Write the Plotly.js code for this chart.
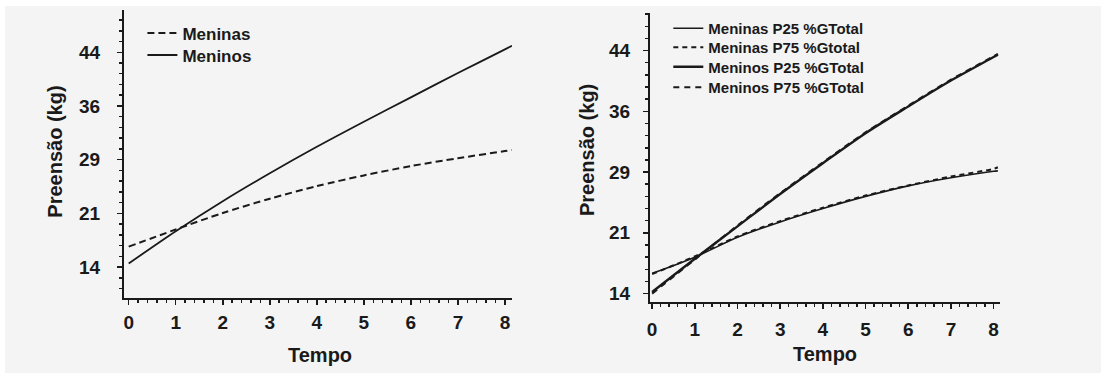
<!DOCTYPE html>
<html>
<head>
<meta charset="utf-8">
<script src="https://cdn.plot.ly/plotly-3.0.1.min.js"></script>
<style>
  html, body { margin: 0; padding: 0; background: #ffffff; width: 1101px; height: 374px; overflow: hidden; }
  #chart { position: absolute; left: 5px; top: 6px; width: 1096px; height: 367px; }
</style>
</head>
<body>
<div id="chart"></div>
<script>
// ---- data ----
const tempoLeft  = [0, 1, 2, 3, 4, 5, 6, 7, 8, 8.15];
const meninasLeft = [16.85, 19.25, 21.55, 23.55, 25.3, 26.8, 28.1, 29.2, 30.2, 30.35];
const meninosLeft = [14.5, 19.0, 23.2, 27.1, 30.8, 34.3, 37.7, 41.1, 44.4, 44.9];

const tempoRight = [0, 1, 2, 3, 4, 5, 6, 7, 8, 8.1];
const meninasP25 = [16.5, 18.5, 20.95, 22.85, 24.5, 26.0, 27.3, 28.3, 29.1, 29.15];
const meninasP75 = [16.4, 18.6, 21.05, 22.95, 24.6, 26.1, 27.35, 28.45, 29.4, 29.6];
const meninosP25 = [14.2, 18.3, 22.3, 26.3, 30.1, 33.8, 37.1, 40.3, 43.2, 43.5];
const meninosP75 = [14.0, 18.2, 22.4, 26.4, 30.2, 33.9, 37.2, 40.4, 43.3, 43.6];

const xTicks = [0, 1, 2, 3, 4, 5, 6, 7, 8];
const yTickVals = [14, 21.5, 29, 36.5, 44];
const yTickText = ['14', '21', '29', '36', '44'];

const leftNames = ['Meninas', 'Meninos'];
const rightNames = ['Meninas P25 %GTotal', 'Meninas P75 %Gtotal', 'Meninos P25 %GTotal', 'Meninos P75 %GTotal'];
const yTitle = 'Preensão (kg)';
const xTitle = 'Tempo';

// ---- styling ----
const INK = '#1a1a1a';
const FONT = 'Liberation Sans, Arial, Helvetica, sans-serif';
const BG = '#f4f4f4';

const traces = [
  { x: tempoLeft, y: meninasLeft, name: leftNames[0], mode: 'lines', xaxis: 'x', yaxis: 'y',
    line: { color: INK, width: 2, dash: '7px,4px', shape: 'spline', smoothing: 0.8 }, legend: 'legend' },
  { x: tempoLeft, y: meninosLeft, name: leftNames[1], mode: 'lines', xaxis: 'x', yaxis: 'y',
    line: { color: INK, width: 1.8, shape: 'spline', smoothing: 0.8 }, legend: 'legend2' },
  { x: tempoRight, y: meninasP25, name: rightNames[0], mode: 'lines', xaxis: 'x2', yaxis: 'y2',
    line: { color: INK, width: 1.6, shape: 'spline', smoothing: 0.8 }, legend: 'legend3' },
  { x: tempoRight, y: meninasP75, name: rightNames[1], mode: 'lines', xaxis: 'x2', yaxis: 'y2',
    line: { color: INK, width: 2, dash: '5px,4px', shape: 'spline', smoothing: 0.8 }, legend: 'legend4' },
  { x: tempoRight, y: meninosP25, name: rightNames[2], mode: 'lines', xaxis: 'x2', yaxis: 'y2',
    line: { color: INK, width: 2.4, shape: 'spline', smoothing: 0.8 }, legend: 'legend5' },
  { x: tempoRight, y: meninosP75, name: rightNames[3], mode: 'lines', xaxis: 'x2', yaxis: 'y2',
    line: { color: INK, width: 2, dash: '6px,5px', shape: 'spline', smoothing: 0.8 }, legend: 'legend6' }
];

function xAxis(domain, range, anchor, standoff) {
  return {
    domain: domain, range: range, anchor: anchor,
    tickmode: 'array', tickvals: xTicks, ticktext: xTicks.map(String),
    showline: true, linecolor: INK, linewidth: 2,
    showgrid: false, zeroline: false,
    ticks: 'outside', ticklen: 5, tickwidth: 1.5, tickcolor: INK,
    ticklabelstandoff: standoff,
    minor: { tickmode: 'linear', tick0: 0, dtick: 0.2, ticks: 'outside', ticklen: 3, tickwidth: 1.5, tickcolor: INK, showgrid: false },
    tickfont: { family: FONT, size: 19, color: INK, weight: 'bold' },
    fixedrange: true
  };
}
function yAxis(domain, range, anchor, standoff) {
  return {
    domain: domain, range: range, anchor: anchor,
    tickmode: 'array', tickvals: yTickVals, ticktext: yTickText,
    showline: true, linecolor: INK, linewidth: 2,
    showgrid: false, zeroline: false,
    ticks: 'outside', ticklen: 5, tickwidth: 1.5, tickcolor: INK,
    ticklabelstandoff: standoff,
    minor: { tickmode: 'linear', tick0: 14, dtick: 1.5, ticks: 'outside', ticklen: 3, tickwidth: 1.5, tickcolor: INK, showgrid: false },
    tickfont: { family: FONT, size: 19, color: INK, weight: 'bold' },
    fixedrange: true
  };
}
function legendAt(x, y, size) {
  return {
    x: x, y: y, xanchor: 'left', yanchor: 'top', xref: 'paper', yref: 'paper',
    bgcolor: 'rgba(0,0,0,0)', borderwidth: 0,
    font: { family: FONT, size: size, color: INK, weight: 'bold' }
  };
}

const W = 1096, H = 367;
const layout = {
  width: W, height: H, autosize: false,
  margin: { l: 0, r: 0, t: 0, b: 0, pad: 0 },
  paper_bgcolor: BG, plot_bgcolor: BG,
  showlegend: true,
  xaxis:  xAxis([119 / W, 507 / W], [-0.1, 8.15], 'y', 2),
  yaxis:  yAxis([1 - 291.5 / H, 1 - 4 / H], [9.75, 49.9], 'x', 13),
  xaxis2: xAxis([645 / W, 995 / W], [-0.05, 8.15], 'y2', 4),
  yaxis2: yAxis([1 - 295.7 / H, 1 - 7.3 / H], [13, 48.6], 'x2', 9),
  legend:  legendAt(137.4 / W, 1 - 9.45 / H, 17),
  legend2: legendAt(137.4 / W, 1 - 31.45 / H, 17),
  legend3: legendAt(663.3 / W, 1 - 6.05 / H, 15),
  legend4: legendAt(663.3 / W, 1 - 25.05 / H, 15),
  legend5: legendAt(663.3 / W, 1 - 44.45 / H, 15),
  legend6: legendAt(663.3 / W, 1 - 65.05 / H, 15),
  annotations: [
    { text: yTitle, xref: 'paper', yref: 'paper', x: 50 / W, y: 1 - 145.7 / H, textangle: -90,
      showarrow: false, xanchor: 'center', yanchor: 'middle',
      font: { family: FONT, size: 20, color: INK, weight: 'bold' } },
    { text: xTitle, xref: 'paper', yref: 'paper', x: 315 / W, y: 1 - 349 / H,
      showarrow: false, xanchor: 'center', yanchor: 'middle',
      font: { family: FONT, size: 20, color: INK, weight: 'bold' } },
    { text: yTitle, xref: 'paper', yref: 'paper', x: 582 / W, y: 1 - 144 / H, textangle: -90,
      showarrow: false, xanchor: 'center', yanchor: 'middle',
      font: { family: FONT, size: 20, color: INK, weight: 'bold' } },
    { text: xTitle, xref: 'paper', yref: 'paper', x: 820 / W, y: 1 - 347.5 / H,
      showarrow: false, xanchor: 'center', yanchor: 'middle',
      font: { family: FONT, size: 20, color: INK, weight: 'bold' } }
  ]
};

Plotly.newPlot('chart', traces, layout, { staticPlot: true, displayModeBar: false });
</script>
</body>
</html>
